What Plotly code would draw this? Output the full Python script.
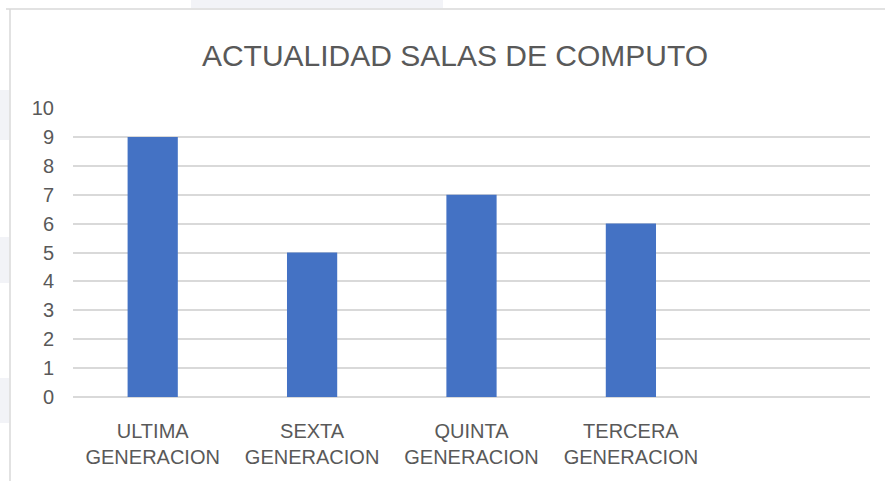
import plotly.graph_objects as go

categories = ["ULTIMA<br>GENERACION", "SEXTA<br>GENERACION", "QUINTA<br>GENERACION", "TERCERA<br>GENERACION"]
values = [9, 5, 7, 6]
y_ticks = list(range(0, 11))

W, H = 885, 481
L, R, T, B = 73, 15, 108, 84
PW, PH = W - L - R, H - T - B


def px(x):
    return (x - L) / PW


def py(y):
    return (H - B - y) / PH


fig = go.Figure()
fig.add_trace(go.Bar(
    x=categories, y=values,
    marker=dict(color="#4472C4", line=dict(width=0)),
    width=0.315,
))

font_family = "Liberation Sans, Arial, sans-serif"
fig.update_layout(
    width=W, height=H,
    margin=dict(l=L, r=R, t=T, b=B),
    paper_bgcolor="white", plot_bgcolor="white",
    showlegend=False,
    title=dict(text="ACTUALIDAD SALAS DE COMPUTO", xref="container", x=455 / W,
               xanchor="center", yref="container", y=1 - 55 / H, yanchor="middle",
               font=dict(family=font_family, size=30, color="#595959")),
    font=dict(family=font_family, size=20, color="#595959"),
    xaxis=dict(type="category", range=[-0.5, 4.5], showgrid=False, ticks="",
               showline=False, zeroline=False, tickfont=dict(size=20, color="#595959"),
               ticklabelstandoff=20),
    yaxis=dict(range=[0, 10], tickvals=y_ticks, showgrid=True, gridcolor="#d9d9d9",
               gridwidth=1.5, zeroline=True, zerolinecolor="#d9d9d9", zerolinewidth=1.5,
               showline=False, ticks="", tickfont=dict(size=20, color="#595959"),
               ticklabelstandoff=18),
)

# chart-area border and surrounding page artefacts
shapes = [
    dict(type="rect", xref="paper", yref="paper", x0=px(191), x1=px(443),
         y0=py(0), y1=py(8), fillcolor="#f2f3f7", line=dict(width=0), layer="below"),
]
for (ya, yb) in [(90, 140), (237, 283), (378, 423)]:
    shapes.append(dict(type="rect", xref="paper", yref="paper",
                       x0=px(0), x1=px(9), y0=py(ya), y1=py(yb),
                       fillcolor="#f2f3f7", line=dict(width=0), layer="below"))
shapes.append(dict(type="line", xref="paper", yref="paper",
                   x0=px(10), x1=px(10), y0=py(9), y1=py(490),
                   line=dict(color="#d9d9d9", width=1.5), layer="below"))
shapes.append(dict(type="line", xref="paper", yref="paper",
                   x0=px(6), x1=px(900), y0=py(9), y1=py(9),
                   line=dict(color="#d9d9d9", width=1.5), layer="below"))
fig.update_layout(shapes=shapes)

fig.write_html("out.html", config={"displayModeBar": False},
               post_script="document.body.style.margin='0';document.body.style.overflow='hidden';")
